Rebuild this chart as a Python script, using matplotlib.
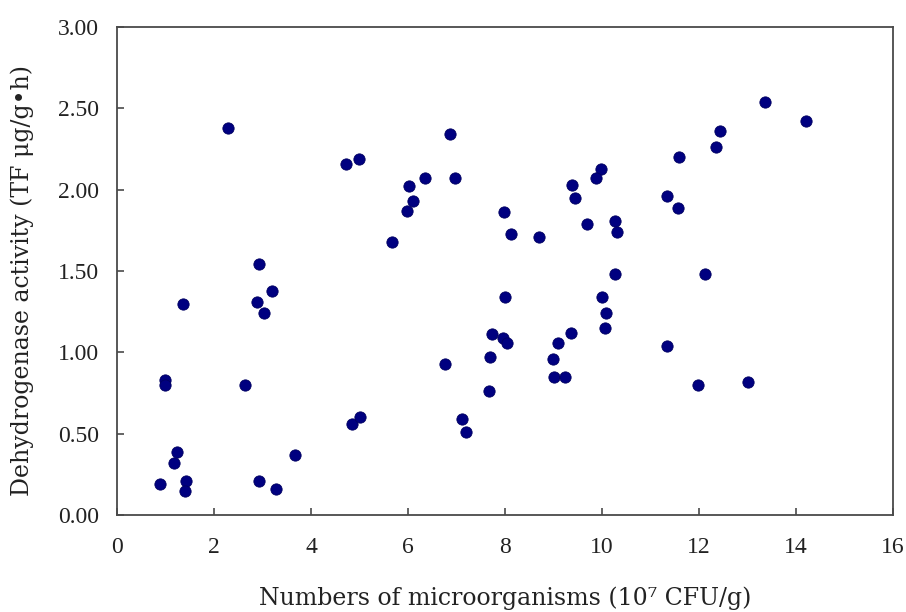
import matplotlib
matplotlib.use('Agg')
import matplotlib.pyplot as plt
from matplotlib.ticker import FormatStrFormatter

# microorganisms (10^7 CFU/g) vs dehydrogenase activity
microbes = [0.89, 0.99, 0.99, 1.17, 1.23, 1.36, 1.42, 1.40, 2.29, 2.64,
            2.92, 3.19, 2.88, 3.03, 2.92, 3.27, 3.67, 4.72, 5.00, 4.84,
            5.02, 6.86, 6.36, 6.96, 6.02, 6.11, 5.98, 5.66, 7.97, 8.13,
            8.71, 9.38, 9.44, 9.98, 9.88, 9.69, 10.27, 10.30, 10.26, 10.01,
            10.08, 10.06, 8.00, 7.73, 7.96, 8.05, 7.69, 6.77, 7.67, 7.11,
            7.19, 9.36, 9.10, 8.99, 9.02, 9.23, 13.36, 14.21, 12.44, 12.34,
            11.59, 11.33, 11.57, 12.12, 11.35, 11.98, 13.01]
activity = [0.19, 0.83, 0.80, 0.32, 0.39, 1.30, 0.21, 0.15, 2.38, 0.80,
            1.54, 1.38, 1.31, 1.24, 0.21, 0.16, 0.37, 2.16, 2.19, 0.56,
            0.60, 2.34, 2.07, 2.07, 2.02, 1.93, 1.87, 1.68, 1.86, 1.73,
            1.71, 2.03, 1.95, 2.13, 2.07, 1.79, 1.81, 1.74, 1.48, 1.34,
            1.24, 1.15, 1.34, 1.11, 1.09, 1.06, 0.97, 0.93, 0.76, 0.59,
            0.51, 1.12, 1.06, 0.96, 0.85, 0.85, 2.54, 2.42, 2.36, 2.26,
            2.20, 1.96, 1.89, 1.48, 1.04, 0.80, 0.82]

x_ticks = [0, 2, 4, 6, 8, 10, 12, 14, 16]
y_ticks = [0.0, 0.5, 1.0, 1.5, 2.0, 2.5, 3.0]

fig = plt.figure(figsize=(9.06, 6.12), dpi=100)
ax = fig.add_axes([0.1291, 0.1585, 0.8566, 0.7974])

ax.scatter(microbes, activity, s=66, color='#000080', edgecolors='#000060',
           linewidths=0.6, zorder=3)

ax.set_xlim(0, 16)
ax.set_ylim(0, 3)
ax.set_xticks(x_ticks)
ax.set_yticks(y_ticks)
ax.yaxis.set_major_formatter(FormatStrFormatter('%.2f'))

for s in ax.spines.values():
    s.set_color('#4a4a4a')
    s.set_linewidth(1.3)

ax.tick_params(direction='in', length=5, width=1.2, color='#4a4a4a',
               labelsize=17)
ax.tick_params(axis='x', pad=16)
ax.tick_params(axis='y', pad=13)
for lab in ax.get_xticklabels() + ax.get_yticklabels():
    lab.set_family('Liberation Serif')
    lab.set_color('#222222')

ax.set_xlabel('Numbers of microorganisms (10\u2077 CFU/g)', family='DejaVu Serif',
              fontsize=17, color='#222222', labelpad=20)
ax.set_ylabel('Dehydrogenase activity (TF \u03bcg/g\u2022h)', family='DejaVu Serif',
              fontsize=17, color='#222222')
ax.yaxis.set_label_coords(-0.122, 0.48)
ax.yaxis.label.set_va('center')

fig.savefig('out.png', dpi=100)
